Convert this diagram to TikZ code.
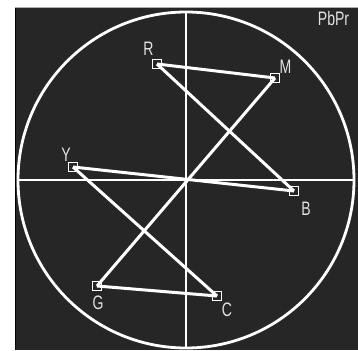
\documentclass[tikz,border=0pt]{standalone}
\usepackage{fontspec}
\setmainfont{Liberation Sans}[FakeStretch=0.72]
\definecolor{scopebg}{HTML}{262626}
\definecolor{scopetxt}{HTML}{E2E2E2}
\begin{document}
\begin{tikzpicture}[x=1pt,y=-1pt,
  trace/.style={draw=white, line width=3pt},
  ring/.style={draw=white, line width=2.8pt},
  cross/.style={draw=white, line width=1.4pt},
  pt/.style={draw=white, line width=1.6pt, minimum size=9pt, inner sep=0pt, rectangle},
  lbl/.style={text=scopetxt, font=\fontsize{19.5}{21}\selectfont, inner sep=0pt}]
\useasboundingbox (0,0) rectangle (358,350);
\fill[white] (0,0) rectangle (358,350);
\fill[scopebg] (15,7) rectangle (358,350);
\draw[black, line width=1pt] (15.5,7) -- (15.5,350);
\draw[gray!60, line width=1pt] (15,7.5) -- (358,7.5);
\coordinate (O) at (186,180);
\coordinate (L) at (18,180);
\coordinate (Rt) at (354,180);
\coordinate (T) at (186,12);
\coordinate (Bt) at (186,348);
\draw[cross] (L) -- (Rt);
\draw[cross] (T) -- (Bt);
\draw[ring] (O) circle (168pt);
\node[pt] (R) at (157,64) {};
\node[pt] (M) at (275,78) {};
\node[pt] (Y) at (73,167) {};
\node[pt] (B) at (294,191) {};
\node[pt] (G) at (97,286) {};
\node[pt] (C) at (217,296) {};
\draw[trace] (R.center) -- (M.center);
\draw[trace] (R.center) -- (B.center);
\draw[trace] (M.center) -- (G.center);
\draw[trace] (Y.center) -- (B.center);
\draw[trace] (Y.center) -- (C.center);
\draw[trace] (G.center) -- (C.center);
\foreach \n in {R,M,Y,B,G,C} {\node[pt] at (\n) {};}
\node[lbl] (lR) at (148.5,49) {R};
\node[lbl] (lM) at (285.5,67) {M};
\node[lbl] (lY) at (66,155) {Y};
\node[lbl] (lB) at (306,209) {B};
\node[lbl] (lG) at (98,303) {G};
\node[lbl] (lC) at (227,310) {C};
\node[lbl] (lP) at (333.5,19) {PbPr};
\end{tikzpicture}
\end{document}
